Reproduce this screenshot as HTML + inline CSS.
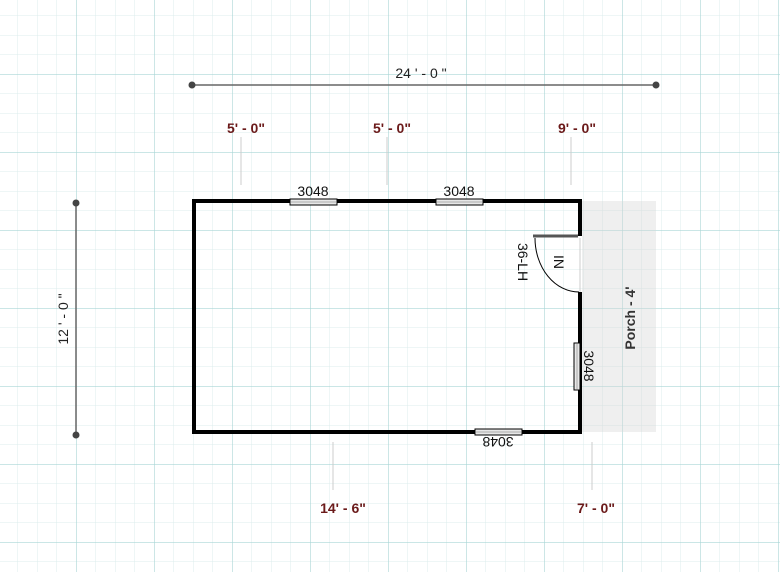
<!DOCTYPE html>
<html><head><style>html,body{margin:0;padding:0;background:#fff}svg{display:block}</style></head><body>
<svg width="780" height="572" xmlns="http://www.w3.org/2000/svg" font-family="Liberation Sans, Arial, sans-serif">
<defs>
<pattern id="minor" x="-2" y="-4" width="19.5" height="19.5" patternUnits="userSpaceOnUse">
<path d="M0 0V19.5M0 0H19.5" stroke="#dcecec" stroke-width="1" fill="none"/>
</pattern>
<pattern id="major" x="-2" y="-4" width="78" height="78" patternUnits="userSpaceOnUse">
<path d="M0 0V78M0 0H78" stroke="#a9d6d6" stroke-width="1.2" fill="none"/>
</pattern>
</defs>
<rect width="780" height="572" fill="#fff"/>
<rect width="780" height="572" fill="url(#minor)"/>
<rect width="780" height="572" fill="url(#major)"/>
<!-- porch -->
<rect x="582" y="201" width="74" height="231" fill="#d8d8d8" opacity="0.4"/>
<text transform="translate(635,318) rotate(-90)" text-anchor="middle" font-size="14" font-weight="bold" fill="#333">Porch - 4'</text>
<!-- top dimension -->
<line x1="192" y1="85" x2="656" y2="85" stroke="#666" stroke-width="1.5"/>
<circle cx="192" cy="85" r="3.5" fill="#444"/><circle cx="656" cy="85" r="3.5" fill="#444"/>
<text x="421" y="78" text-anchor="middle" font-size="14" fill="#222">24 ' - 0 "</text>
<!-- left dimension -->
<line x1="76" y1="203" x2="76" y2="435" stroke="#666" stroke-width="1.5"/>
<circle cx="76" cy="203" r="3.5" fill="#444"/><circle cx="76" cy="435" r="3.5" fill="#444"/>
<text transform="translate(68,319) rotate(-90)" text-anchor="middle" font-size="14" fill="#222">12 ' - 0 "</text>
<!-- dim labels -->
<g font-size="14" font-weight="bold" fill="#6b1a1a" text-anchor="middle">
<text x="246" y="133">5' - 0"</text>
<text x="392" y="133">5' - 0"</text>
<text x="577" y="133">9' - 0"</text>
<text x="343" y="513">14' - 6"</text>
<text x="596" y="513">7' - 0"</text>
</g>
<g stroke="#ccc" stroke-width="1">
<line x1="241" y1="137" x2="241" y2="185"/>
<line x1="387" y1="137" x2="387" y2="185"/>
<line x1="571" y1="137" x2="571" y2="185"/>
<line x1="333" y1="442" x2="333" y2="490"/>
<line x1="592" y1="442" x2="592" y2="490"/>
</g>
<!-- walls -->
<path d="M580 236 V201 H194 V432 H580 V292" fill="none" stroke="#000" stroke-width="4"/>
<!-- door -->
<line x1="533" y1="236" x2="578" y2="236" stroke="#555" stroke-width="3"/>
<line x1="580" y1="238" x2="580" y2="292" stroke="#ccc" stroke-width="1"/>
<path d="M535 238 A44 54 0 0 0 579 292" fill="none" stroke="#000" stroke-width="1"/>
<text transform="translate(554,262) rotate(90)" text-anchor="middle" font-size="14" fill="#111">IN</text>
<text transform="translate(518,262) rotate(90)" text-anchor="middle" font-size="14" fill="#111">36-LH</text>
<!-- windows -->
<g fill="#e8e8e8" stroke="#000" stroke-width="1">
<rect x="290" y="199" width="47" height="6"/>
<rect x="436" y="199" width="47" height="6"/>
<rect x="475" y="429" width="47" height="6"/>
<rect x="574" y="343" width="6" height="47"/>
</g>
<g stroke="#999" stroke-width="0.8">
<line x1="291" y1="202" x2="336" y2="202"/><line x1="437" y1="202" x2="482" y2="202"/>
<line x1="476" y1="432" x2="521" y2="432"/><line x1="577" y1="344" x2="577" y2="389"/>
</g>
<g font-size="14" fill="#111" text-anchor="middle">
<text x="313" y="196">3048</text>
<text x="459" y="196">3048</text>
<text transform="translate(498,437) rotate(180)">3048</text>
<text transform="translate(584,366) rotate(90)">3048</text>
</g>
</svg>
</body></html>
